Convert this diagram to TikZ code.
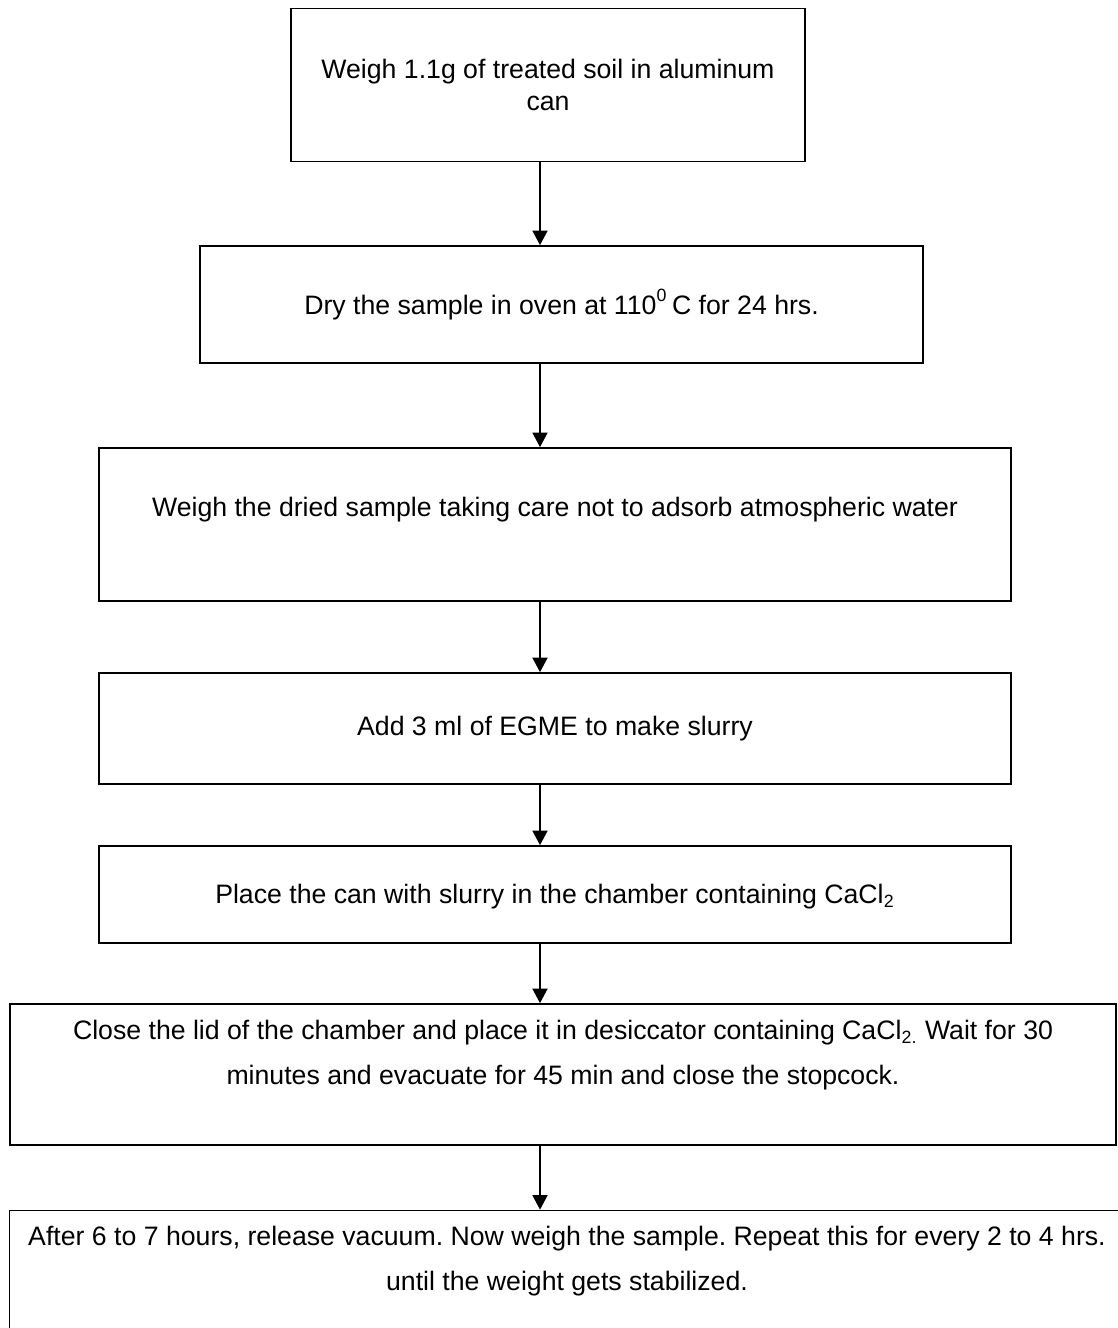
\documentclass[tikz,border=0pt]{standalone}
\usepackage{fontspec}
\setmainfont{Liberation Sans}
\usetikzlibrary{arrows.meta,positioning,calc}
\frenchspacing

\tikzset{
  stepbox/.style={draw, line width=0.8pt, inner sep=0pt, align=center,
    font=\fontsize{12}{14.4}\selectfont},
  widebox/.style={stepbox, font=\fontsize{12}{20.25}\selectfont},
  flow/.style={line width=0.55pt, -{Triangle[length=6.5pt,width=6.8pt]}}
}

\begin{document}
\begin{tikzpicture}[x=0.45pt,y=-0.45pt]
\useasboundingbox (0,0) rectangle (1117,1328);
% procedure steps
\node[stepbox, minimum width=231.3pt, minimum height=68.85pt] (s1) at (548,85)
  {Weigh 1.1g of treated soil in aluminum\\can};
\node[stepbox, minimum width=325.35pt, minimum height=52.65pt] (s2) at (561.5,304.5)
  {Dry the sample in oven at 110\raisebox{1.5pt}{\textsuperscript{0}}\,C for 24 hrs.};
\node[stepbox, minimum width=410.4pt, minimum height=68.85pt] (s3) at (555,524.5)
  {Weigh the dried sample taking care not to adsorb atmospheric water\\[1.35pt]~};
\node[stepbox, minimum width=410.4pt, minimum height=49.95pt] (s4) at (555,728.5)
  {Add 3 ml of EGME to make slurry};
\node[stepbox, minimum width=410.4pt, minimum height=43.65pt] (s5) at (555,894.5)
  {\mbox{}\\[-3.4pt]Place the can with slurry in the chamber containing CaCl\textsubscript{2}};
\node[widebox, minimum width=497.7pt, minimum height=63.45pt] (s6) at (563,1074.5)
  {Close the lid of the chamber and place it in desiccator containing CaCl\textsubscript{2.} Wait for 30\\
   minutes and evacuate for 45 min and close the stopcock.\\~};
\node[widebox, minimum width=501.75pt, minimum height=63.45pt] (s7) at (567,1281)
  {After 6 to 7 hours, release vacuum. Now weigh the sample. Repeat this for every 2 to 4 hrs.\\
   until the weight gets stabilized.\\~};

% arrows down the middle
\coordinate (spine) at (540,0);
\foreach \a/\b in {s1/s2,s2/s3,s3/s4,s4/s5,s5/s6,s6/s7}
  \draw[flow] (\a.south -| spine) -- (\b.north -| spine);
\end{tikzpicture}
\end{document}
